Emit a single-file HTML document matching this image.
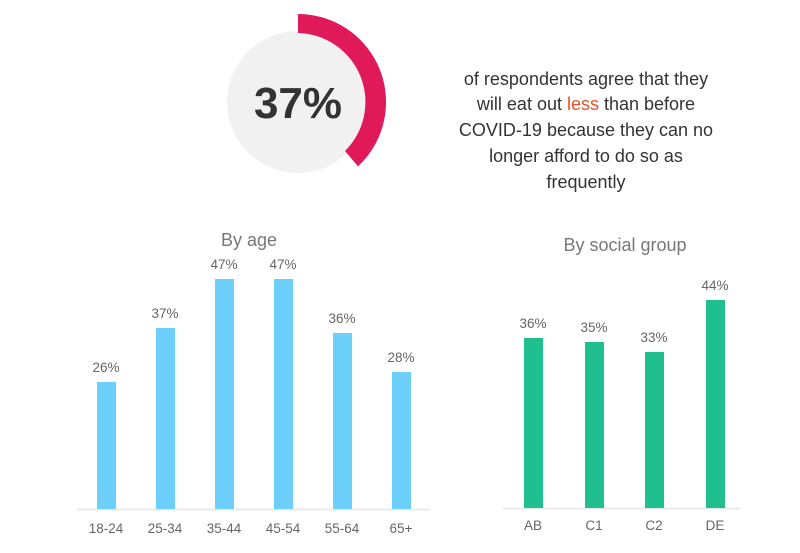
<!DOCTYPE html>
<html><head><style>
body{margin:0;background:#fff;}
svg text{font-family:"Liberation Sans",sans-serif;}
</style></head><body>
<svg width="800" height="548" viewBox="0 0 800 548" xmlns="http://www.w3.org/2000/svg">
<rect width="800" height="548" fill="#fff"/>
<circle cx="298" cy="102" r="71" fill="#f1f1f1"/>
<path d="M298 14 A88 88 0 0 1 358 166.4 L345 151 A69 69 0 0 0 298 33 Z" fill="#e0195a"/>
<text x="298" y="118" text-anchor="middle" font-size="44" font-weight="bold" fill="#333">37%</text>
<g font-size="18" fill="#333" text-anchor="middle">
<text x="586" y="85">of respondents agree that they</text>
<text x="586" y="110">will eat out <tspan fill="#e8502a">less</tspan> than before</text>
<text x="586" y="136">COVID-19 because they can no</text>
<text x="586" y="162">longer afford to do so as</text>
<text x="586" y="188">frequently</text>
</g>
<g font-size="18" fill="#777" text-anchor="middle">
<text x="249" y="246">By age</text>
<text x="625" y="251">By social group</text>
</g>
<line x1="77" y1="509.5" x2="430" y2="509.5" stroke="#e6e6e6" stroke-width="1.5"/>
<line x1="503" y1="508.5" x2="740" y2="508.5" stroke="#e6e6e6" stroke-width="1.5"/>
<g fill="#6dd0fb">
<rect x="97" y="382" width="19" height="127"/>
<rect x="156" y="328" width="19" height="181"/>
<rect x="215" y="279" width="19" height="230"/>
<rect x="274" y="279" width="19" height="230"/>
<rect x="333" y="333" width="19" height="176"/>
<rect x="392" y="372" width="19" height="137"/>
</g>
<g fill="#1fbf90">
<rect x="524" y="338" width="19" height="170"/>
<rect x="585" y="342" width="19" height="166"/>
<rect x="645" y="352" width="19" height="156"/>
<rect x="706" y="300" width="19" height="208"/>
</g>
<g font-size="13.5" fill="#666" text-anchor="middle">
<text x="106" y="372">26%</text>
<text x="165" y="318">37%</text>
<text x="224" y="269">47%</text>
<text x="283" y="269">47%</text>
<text x="342" y="323">36%</text>
<text x="401" y="362">28%</text>
<text x="533" y="328">36%</text>
<text x="594" y="332">35%</text>
<text x="654" y="342">33%</text>
<text x="715" y="290">44%</text>
<text x="106" y="533">18-24</text>
<text x="165" y="533">25-34</text>
<text x="224" y="533">35-44</text>
<text x="283" y="533">45-54</text>
<text x="342" y="533">55-64</text>
<text x="401" y="533">65+</text>
<text x="533" y="530">AB</text>
<text x="594" y="530">C1</text>
<text x="654" y="530">C2</text>
<text x="715" y="530">DE</text>
</g>
</svg>
</body></html>
